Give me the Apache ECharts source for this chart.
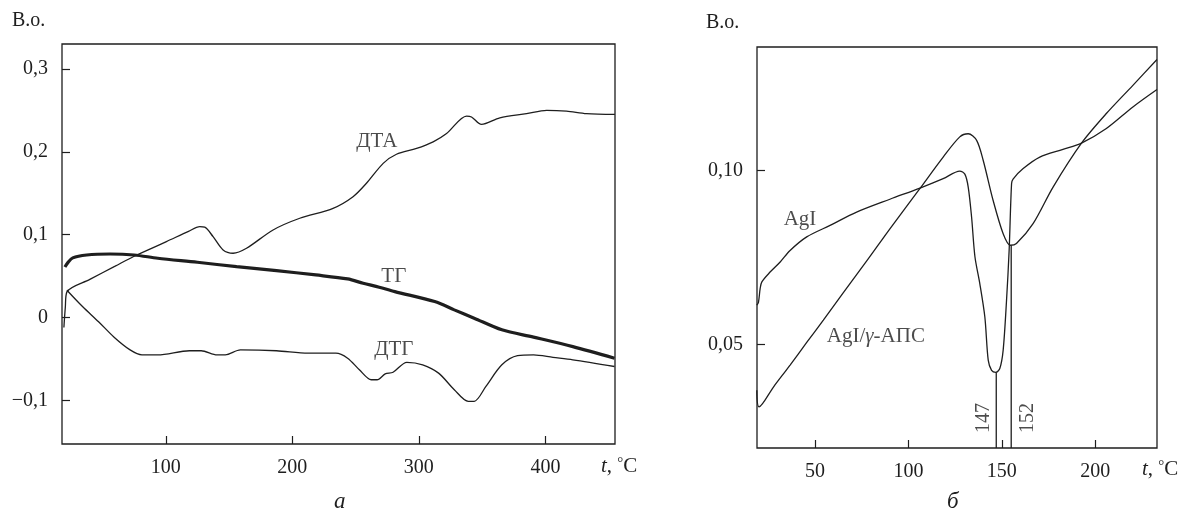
<!DOCTYPE html>
<html><head><meta charset="utf-8">
<script src="https://cdn.jsdelivr.net/npm/echarts@6/dist/echarts.min.js"></script>
<style>html,body{margin:0;padding:0;background:#fff}#c{width:1189px;height:516px}</style>
</head><body><div id="c"></div>
<script>
// ---- Panel а : thermal analysis (t, °C vs В.о.) ----
const dta = [[19.5,-0.012],[20.6,0.012],[21.9,0.031],[40,0.046],[60,0.062],[75,0.074],[100.5,0.0916],[118,0.104],[126.9,0.1096],[130.8,0.109],[137.4,0.0976],[145.3,0.0816],[153.2,0.0776],[163.8,0.0836],[184.8,0.1057],[205.9,0.1198],[232.2,0.1318],[248,0.1458],[258.6,0.162],[271.8,0.186],[282.3,0.197],[298.2,0.204],[311.3,0.212],[321.9,0.222],[337.7,0.243],[341.6,0.242],[349.5,0.233],[364,0.241],[385.1,0.246],[401,0.250],[416.7,0.249],[432.5,0.246],[454.9,0.245]];
const tg = [[20.3,0.061],[22.5,0.066],[26.5,0.072],[37.5,0.0755],[56,0.0767],[75,0.0755],[93.7,0.0716],[125,0.0667],[156,0.0614],[187.5,0.0566],[218.6,0.0514],[243.7,0.0466],[256,0.0414],[268.7,0.0366],[281,0.0313],[312.5,0.0193],[328,0.0093],[343.7,-0.0007],[365.6,-0.0148],[390.6,-0.0236],[421.7,-0.035],[454.6,-0.049]];
const dtg = [[21.9,0.033],[34.4,0.013],[46.9,-0.005],[59.4,-0.024],[71.8,-0.039],[81.2,-0.045],[93.7,-0.045],[118.7,-0.040],[128,-0.040],[140.6,-0.045],[147,-0.045],[159,-0.039],[187.5,-0.040],[212.5,-0.043],[234.4,-0.043],[243.7,-0.049],[253,-0.063],[262.4,-0.075],[267,-0.075],[273.4,-0.068],[279.6,-0.066],[290.5,-0.054],[303,-0.057],[315.6,-0.067],[328,-0.087],[339,-0.101],[343.7,-0.101],[353,-0.083],[365.6,-0.057],[378,-0.046],[390.6,-0.045],[406,-0.048],[421.7,-0.051],[454.6,-0.059]];
const xTicksA = [100,200,300,400];
const yTicksA = [-0.1,0,0.1,0.2,0.3];
const labelsA = [[266.8,0.213,'ДТА'],[280.2,0.049,'ТГ'],[280.2,-0.039,'ДТГ']];

// ---- Panel б : AgI and AgI/γ-АПС ----
const agi = [[18.9,0.0613],[19.8,0.0622],[20.7,0.0661],[21.6,0.068],[26,0.0708],[31.4,0.0737],[36.7,0.077],[45.6,0.0809],[58.1,0.0842],[72.3,0.088],[90.1,0.0917],[106.2,0.0949],[118.6,0.0976],[127.5,0.0998],[130.2,0.0989],[132,0.0952],[133.8,0.0866],[135.6,0.0752],[138.2,0.0675],[140.9,0.0579],[142.7,0.0455],[144.5,0.0426],[146.8,0.042],[148.9,0.0431],[150.7,0.0484],[152.5,0.0627],[153.9,0.0771],[155.2,0.0962],[156,0.0975],[161.4,0.1005],[170.3,0.1038],[182.7,0.106],[192.6,0.1078],[205.9,0.112],[220.1,0.1182],[233,0.1232]];
const agiAps = [[18.9,0.0369],[20.1,0.0321],[27.8,0.0378],[36.7,0.0441],[45.6,0.0506],[54.5,0.057],[65.2,0.0649],[78,0.0742],[90.1,0.0832],[106.2,0.0948],[118.6,0.1038],[127.5,0.1096],[132,0.1105],[136.5,0.1086],[140,0.1029],[145.3,0.0914],[150.7,0.0818],[154.5,0.0785],[157.8,0.079],[166.7,0.0847],[177.4,0.0952],[192.6,0.1078],[205.9,0.1163],[220.1,0.1244],[233,0.1318]];
const markX = [147,155];        // drop lines, as placed in the picture
const markTop = [0.042,0.0785];
const markText = ['147','152'];
const markLabelPos = [[140.1,0.0289],[164.1,0.0289]];
const xTicksB = [50,100,150,200];
const yTicksB = [0.05,0.10];
const labelsB = [[42.0,0.0859,'AgI'],[82.6,0.0524,'AgI/{i|γ}-АПС']];

const FONT = 'Liberation Serif';
const INK = '#1e1e1e';
const fmt = (v,d) => v === 0 ? '0' : (v<0?'−':'') + Math.abs(v).toFixed(d).replace('.',',');

function xAx(grid,min,max,ticks){
  return {type:'value',gridIndex:grid,min:min,max:max,
    axisLine:{show:false,onZero:false},splitLine:{show:false},
    axisTick:{inside:true,length:8,lineStyle:{color:INK,width:1.2},customValues:ticks},
    axisLabel:{customValues:ticks,margin:14,color:INK,fontSize:20,fontFamily:FONT}};
}
function yAx(grid,min,max,ticks,d){
  return {type:'value',gridIndex:grid,min:min,max:max,
    axisLine:{show:false,onZero:false},splitLine:{show:false},
    axisTick:{inside:true,length:8,lineStyle:{color:INK,width:1.2},customValues:ticks},
    axisLabel:{customValues:ticks,margin:14,color:INK,fontSize:20,fontFamily:FONT,formatter:v=>fmt(v,d)}};
}
function ln(data,xi,w){
  return {type:'line',xAxisIndex:xi,yAxisIndex:xi,data:data,showSymbol:false,smooth:0.3,
    lineStyle:{color:INK,width:w},silent:true,clip:true};
}
function lbl(data,xi,extra){
  return Object.assign({type:'scatter',xAxisIndex:xi,yAxisIndex:xi,symbolSize:0,silent:true,
    data:data,label:{show:true,position:'inside',formatter:p=>p.data[2],color:INK,fontSize:21,fontFamily:FONT,
    rich:{i:{fontStyle:'italic',fontSize:21,fontFamily:FONT,color:INK}}}},extra||{});
}

const series = [
  ln(dta,0,1.3), ln(tg,0,3.2), ln(dtg,0,1.3),
  ln(agi,1,1.3), ln(agiAps,1,1.3),
  lbl(labelsA,0), lbl(labelsB,1)
];
markX.forEach((x,i)=>{
  series.push({type:'line',xAxisIndex:1,yAxisIndex:1,data:[[x,0.0203],[x,markTop[i]]],showSymbol:false,
    lineStyle:{color:INK,width:1.3},silent:true});
});
series.push(lbl(markLabelPos.map((p,i)=>[p[0],p[1],markText[i]]),1,{}));
series[series.length-1].label.rotate = 90;
series[series.length-1].label.fontSize = 20;

const chart = echarts.init(document.getElementById('c'));
chart.setOption({
  animation:false,
  backgroundColor:'#fff',
  grid:[
    {left:62,top:44,width:553,height:400,show:true,borderColor:INK,borderWidth:1.3,containLabel:false},
    {left:757,top:47,width:400,height:401,show:true,borderColor:INK,borderWidth:1.3,containLabel:false}
  ],
  xAxis:[xAx(0,18,455,xTicksA), xAx(1,19,233,xTicksB)],
  yAxis:[yAx(0,-0.1525,0.33,yTicksA,1), yAx(1,0.0203,0.1354,yTicksB,2)],
  series:series,
  graphic:[
    {type:'text',left:12,top:11,style:{text:'В.о.',font:'20px "Liberation Serif"',fill:INK}},
    {type:'text',left:706,top:13,style:{text:'В.о.',font:'20px "Liberation Serif"',fill:INK}},
    {type:'text',left:601,top:456,style:{text:'{i|t}, {s|°}C',rich:{i:{fontStyle:'italic',fontSize:21,fontFamily:FONT},s:{fontSize:15,fontFamily:FONT,verticalAlign:'top'}},fontSize:21,fontFamily:FONT,fill:INK}},
    {type:'text',left:1142,top:459,style:{text:'{i|t}, {s|°}C',rich:{i:{fontStyle:'italic',fontSize:21,fontFamily:FONT},s:{fontSize:15,fontFamily:FONT,verticalAlign:'top'}},fontSize:21,fontFamily:FONT,fill:INK}},
    {type:'text',left:334,top:490,style:{text:'a',font:'italic 23px "Liberation Serif"',fill:INK}},
    {type:'text',left:947,top:490,style:{text:'б',font:'italic 23px "Liberation Serif"',fill:INK}}
  ]
});
</script></body></html>
